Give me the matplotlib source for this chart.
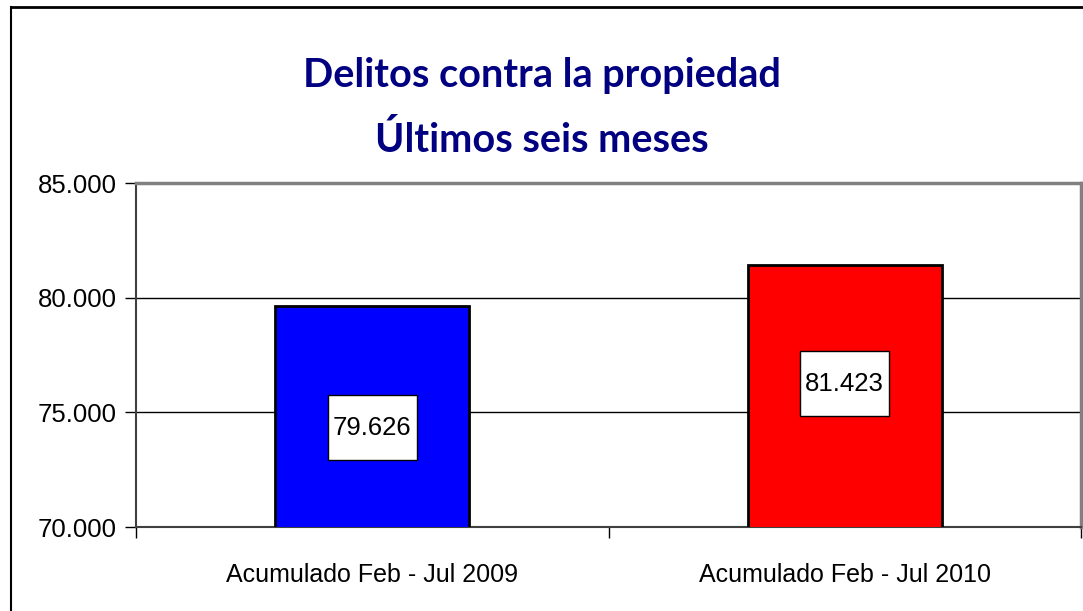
import matplotlib.pyplot as plt
from matplotlib.patches import Rectangle
from matplotlib.lines import Line2D
import matplotlib.transforms as mtransforms

# data
categories = ['Acumulado Feb - Jul 2009', 'Acumulado Feb - Jul 2010']
values = [79626, 81423]
value_labels = ['79.626', '81.423']
bar_colors = ['#0000FF', '#FF0000']
yticks = [70000, 75000, 80000, 85000]
ytick_labels = ['70.000', '75.000', '80.000', '85.000']
title_lines = ['Delitos contra la propiedad', 'Últimos seis meses']

plt.rcParams['font.family'] = ['Liberation Sans', 'DejaVu Sans']

fig = plt.figure(figsize=(10.83, 6.11), dpi=100)
ax = fig.add_axes([136/1083, 84/611, 945/1083, 344/611])

x = list(range(len(categories)))
ax.bar(x, values, width=0.41, color=bar_colors, edgecolor='black', linewidth=2, zorder=3)

ax.set_xlim(-0.5, len(categories) - 0.5)
ax.set_ylim(yticks[0], yticks[-1])
ax.set_yticks(yticks)
ax.set_yticklabels(ytick_labels, fontsize=18.5)
ax.tick_params(axis='y', length=8, width=1, direction='out', pad=6)

# category separators as major ticks, labels on minor ticks
ax.set_xticks([i - 0.5 for i in range(len(categories) + 1)])
ax.set_xticklabels([])
ax.tick_params(axis='x', which='major', length=8, width=1, direction='out')
ax.set_xticks(x, minor=True)
ax.set_xticklabels(categories, minor=True, fontsize=18)
ax.tick_params(axis='x', which='minor', length=0, pad=26)

ax.grid(axis='y', color='black', linewidth=1, zorder=0)
ax.set_axisbelow(True)

for s in ['top', 'right']:
    ax.spines[s].set_color('#808080')
    ax.spines[s].set_linewidth(2.5)
ax.spines['left'].set_color('#404040')
ax.spines['left'].set_linewidth(1.5)
ax.spines['bottom'].set_color('#404040')
ax.spines['bottom'].set_linewidth(1.5)

# value label boxes
box_y = [0.288, 0.417]
trans = mtransforms.blended_transform_factory(ax.transData, ax.transAxes)
bw = 89 / 945 * 2  # in data units (axis spans 2 categories)
bh = 65 / 344
for i, (lbl, yy) in enumerate(zip(value_labels, box_y)):
    ax.add_patch(Rectangle((i - bw / 2, yy - bh / 2), bw, bh, transform=trans,
                           facecolor='white', edgecolor='black', linewidth=1, zorder=4))
    ax.text(i, yy, lbl, transform=trans, ha='center', va='center', fontsize=18.5, zorder=5)

# title, two lines
for line, ypix in zip(title_lines, [75, 140]):
    fig.text(0.5, 1 - ypix/611, line, ha='center', va='center', fontsize=28.5,
             fontweight='bold', color='#000080', family=['Lato', 'DejaVu Sans'])

# outer chart border (left and top visible)
fig.add_artist(Line2D([11/1083, 11/1083], [0, 1 - 7/611], transform=fig.transFigure,
                      color='black', linewidth=1.5))
fig.add_artist(Line2D([11/1083, 1], [1 - 7/611, 1 - 7/611], transform=fig.transFigure,
                      color='black', linewidth=2))

fig.savefig('out.png', dpi=100)
